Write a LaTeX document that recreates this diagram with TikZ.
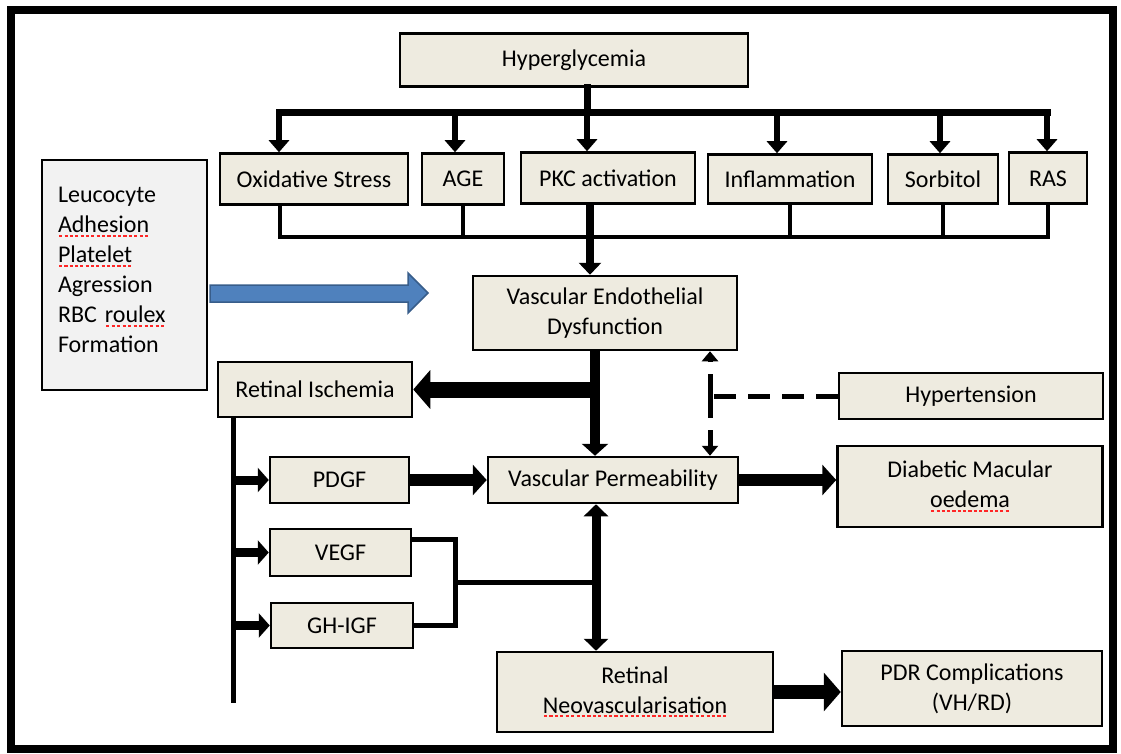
\documentclass[tikz,border=0pt]{standalone}
\usepackage{fontspec}
\setmainfont{Carlito}
\usepackage{xcolor}
\usetikzlibrary{positioning}
\usetikzlibrary{arrows.meta}
\usetikzlibrary{calc}

\definecolor{boxfill}{HTML}{EEEBE0}
\definecolor{notefill}{HTML}{F2F2F2}
\definecolor{bluefill}{HTML}{4F81BD}
\definecolor{blueedge}{HTML}{385D8A}

% red spell-check marks under some words
\newsavebox\spellbox
\newcommand\spell[1]{\leavevmode\sbox\spellbox{#1}\rlap{\color{red!85}\raisebox{-0.35ex}{\hbox to\wd\spellbox{\xleaders\hbox to 0.22em{\hss\rule{0.13em}{0.08em}\hss}\hfil}}}\usebox\spellbox}

\begin{document}
\begin{tikzpicture}[x=1pt,y=-1pt,
    main box/.style={rectangle,draw,line width=2.5pt,fill=boxfill,align=center,
                     inner sep=0pt,font=\fontsize{24}{30}\selectfont},
    note box/.style={rectangle,draw,line width=2.5pt,fill=notefill,align=left,
                     inner xsep=16pt,font=\fontsize{24}{30}\selectfont},
    trunk/.style={line width=7pt,line cap=rect},
    branch/.style={line width=6pt,-{Triangle[width=20pt,length=12pt]}},
    link/.style={line width=4pt},
    mid down/.style={line width=8pt,-{Triangle[width=22pt,length=12pt]}},
    fat/.style={line width=10pt},
    fat arrow/.style={line width=10pt,-{Triangle[width=26pt,length=12pt]}},
    wide arrow/.style={line width=16pt,-{Triangle[width=38pt,length=17pt]}},
    mid arrow/.style={line width=12pt,-{Triangle[width=30pt,length=14pt]}},
    small arrow/.style={line width=9pt,-{Triangle[width=24pt,length=11pt]}},
    both arrow/.style={line width=9pt,{Triangle[width=24pt,length=12pt]}-{Triangle[width=24pt,length=12pt]}},
    dash arrow/.style={line width=5pt,dash pattern=on 22pt off 12pt,-{Triangle[width=16pt,length=10pt]}},
    dash link/.style={line width=5pt,dash pattern=on 22pt off 12pt}]

\useasboundingbox (0,0) rectangle (1121,754);
\draw[line width=8pt] (11,10) rectangle (1113,749);

\node[main box,minimum width=348pt,minimum height=53pt] (hyper) at (574,60) {Hyperglycemia};

\node[main box,minimum width=188pt,minimum height=51pt] (oxid) at (314,179) {Oxidative Stress};
\node[main box,minimum width=82pt,minimum height=51pt] (age) at (463,179) {AGE};
\node[main box,minimum width=174pt,minimum height=51pt] (pkc) at (608,178) {PKC activation};
\node[main box,minimum width=164pt,minimum height=49pt] (inflam) at (790,179) {Inflammation};
\node[main box,minimum width=110pt,minimum height=49pt] (sorb) at (943,179) {Sorbitol};
\node[main box,minimum width=78pt,minimum height=51pt] (ras) at (1048,178) {RAS\vphantom{l}};

\node[note box,text width=133pt,minimum height=230pt] (leuco) at (124.5,275)
  {Leucocyte\\\spell{Adhesion}\\\spell{Platelet}\\Agression\\RBC \spell{roulex}\\Formation\\[-20pt]\mbox{}};

\node[main box,minimum width=264pt,minimum height=74pt] (ved) at (605,313) {Vascular Endothelial\\Dysfunction};
\node[main box,minimum width=194pt,minimum height=55pt] (ischemia) at (315,389.5) {Retinal Ischemia};
\node[main box,minimum width=264pt,minimum height=46pt] (hypert) at (971,396) {Hypertension};
\node[main box,minimum width=139pt,minimum height=46pt] (pdgf) at (339.5,480) {PDGF};
\node[main box,minimum width=250pt,minimum height=46pt] (vp) at (613,480) {Vascular Permeability};
\node[main box,minimum width=265pt,minimum height=81pt] (dmo) at (970,486.5) {Diabetic Macular\\\spell{oedema}};
\node[main box,minimum width=141pt,minimum height=47pt] (vegf) at (340.5,552.5) {VEGF};
\node[main box,minimum width=142pt,minimum height=45pt] (ghigf) at (342,625.5) {GH-IGF};
\node[main box,minimum width=276pt,minimum height=80pt] (neo) at (635,692) {Retinal\\\spell{Neovascularisation}};
\node[main box,minimum width=260pt,minimum height=75pt] (pdr) at (972,688.5) {PDR Complications\\(VH/RD)};

% hyperglycemia fan-out
\coordinate (bar oxid) at (279,113);
\coordinate (bar age) at (455,113);
\coordinate (bar pkc) at (587,113);
\coordinate (bar inflam) at (777,113);
\coordinate (bar sorb) at (940,113);
\coordinate (bar ras) at (1047,113);
\draw[trunk] (bar pkc |- hyper.south) -- (bar pkc);
\draw[trunk] (bar oxid) -- (bar ras);
\foreach \b in {oxid,age,pkc,inflam,sorb,ras}
  \draw[branch] (bar \b) -- (bar \b |- \b.north);

% collector under the row
\coordinate (col oxid) at (280,237);
\coordinate (col ras) at (1048,237);
\draw[link] (col oxid |- oxid.south) -- (col oxid) -- (col ras) -- (col ras |- ras.south);
\draw[link] (age.south) -- (age.south |- col oxid);
\draw[link] (inflam.south) -- (inflam.south |- col oxid);
\draw[link] (sorb.south) -- (sorb.south |- col oxid);
\coordinate (pkc drop) at (590,237);
\draw[mid down] (pkc drop |- pkc.south) -- (pkc drop |- ved.north);

% side factors
\fill[bluefill,draw=blueedge,line width=1.5pt]
  (210,285) -- (408,285) -- (408,273) -- (428,293) -- (408,313) -- (408,302) -- (210,302) -- cycle;

% endothelial dysfunction outputs
\coordinate (split) at (595,389.5);
\draw[fat] (split |- ved.south) -- (split);
\draw[wide arrow] (split) -- (ischemia.east);
\draw[fat arrow] (split) -- (split |- vp.north);

\coordinate (dash join) at (710,396);
\draw[dash link] (hypert.west) -- (dash join);
\draw[dash arrow] (dash join) -- (dash join |- ved.south);
\draw[dash arrow] (dash join) -- (dash join |- vp.north);

\draw[mid arrow] (pdgf) -- (vp);
\draw[mid arrow] (vp.east) -- (vp.east -| dmo.west);

% ischemia stem
\coordinate (stem end) at (233,703);
\draw[link,line width=5pt] (stem end |- ischemia.south) -- (stem end);
\draw[small arrow] (stem end |- pdgf.west) -- (pdgf.west);
\draw[small arrow] (stem end |- vegf.west) -- (vegf.west);
\draw[small arrow] (stem end |- ghigf.west) -- (ghigf.west);

% growth factors to neovascularisation
\coordinate (gf join) at (455,582);
\coordinate (riser) at (596,582);
\draw[link,line width=5pt] ([yshift=13pt]vegf.east) -| (gf join) |- (ghigf.east);
\draw[link,line width=5pt] (gf join) -- (riser);
\draw[both arrow] (riser |- vp.south) -- (riser |- neo.north);

\draw[wide arrow,line width=14pt] (neo.east) -- (neo.east -| pdr.west);
\end{tikzpicture}
\end{document}
